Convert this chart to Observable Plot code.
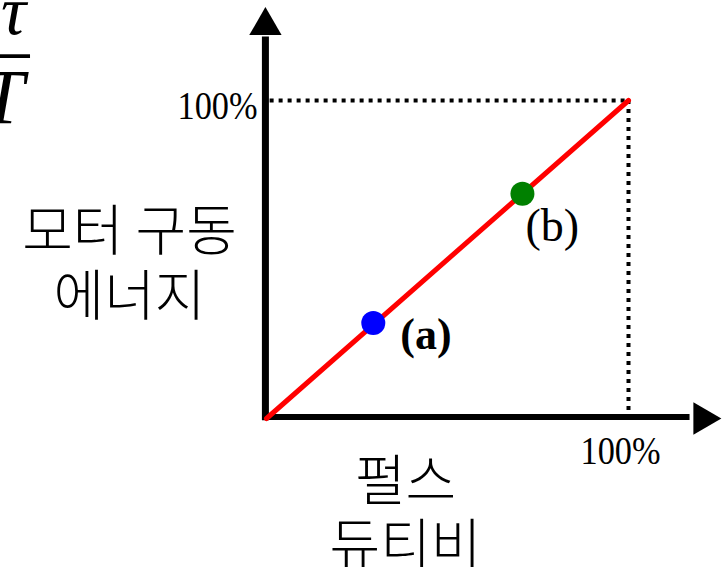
<!DOCTYPE html>
<html>
<head>
<meta charset="utf-8">
<script src="https://cdn.jsdelivr.net/npm/d3@7"></script>
<script src="https://cdn.jsdelivr.net/npm/@observablehq/plot@0.6"></script>
<style>
  html, body { margin: 0; padding: 0; background: #fff; overflow: hidden; }
</style>
</head>
<body>
<div id="chart"></div>
<script>
// ---- data ----
const lineX = [0, 100];
const lineY = [0, 100];
const pointX = [29.5, 70.7];
const pointY = [30, 70.7];
const pointColors = ["#0000ff", "#008000"];
const pointLabels = ["(a)", "(b)"];
const maxTick = [100];
const tickLabel = d => d + "%";
const yTitle = "모터 구동\n에너지";
const xTitle = "펄스\n듀티비";
const axisExtentY = [-0.7, 120];   // y-axis shaft extent (data units)
const axisExtentX = [-1, 117];     // x-axis shaft extent (data units)
const arrowY = {x: -0.3, y: 123.5};
const arrowX = {x: 120.5, y: 0};

const points = pointX.map((x, i) => ({x, y: pointY[i], c: pointColors[i], label: pointLabels[i]}));
const line = lineX.map((x, i) => ({x, y: lineY[i]}));

const serif = "'Liberation Serif', 'Times New Roman', serif";
const kr = "'Noto Sans CJK KR', 'Noto Sans', sans-serif";

const chart = Plot.plot({
  width: 726,
  height: 567,
  marginLeft: 266,
  marginRight: 98,
  marginTop: 100,
  marginBottom: 149,
  x: {domain: [0, 100]},
  y: {domain: [0, 100]},
  style: {background: "#fff", overflow: "visible"},
  marks: [
    // dotted guide lines
    Plot.ruleY(maxTick, {x1: 1, x2: 100, stroke: "#000", strokeWidth: 4, strokeDasharray: "4,5"}),
    Plot.ruleX(maxTick, {y1: 2.5, y2: 100, stroke: "#000", strokeWidth: 4, strokeDasharray: "4,5"}),
    // axes shafts
    Plot.ruleX([arrowY.x], {y1: axisExtentY[0], y2: axisExtentY[1], stroke: "#000", strokeWidth: 7}),
    Plot.ruleY([0.5], {x1: axisExtentX[0], x2: axisExtentX[1], stroke: "#000", strokeWidth: 6}),
    // arrow heads
    Plot.dot([arrowY], {x: "x", y: "y", symbol: "triangle", r: 12, fill: "#000", stroke: null}),
    Plot.dot([arrowX], {x: "x", y: "y", symbol: "triangle", r: 12, fill: "#000", stroke: null, rotate: 90}),
    // red line
    Plot.line(line, {x: "x", y: "y", stroke: "#ff0000", strokeWidth: 5}),
    // points
    Plot.dot(points, {x: "x", y: "y", r: 12, fill: "c", stroke: null}),
    // point labels
    Plot.text([points[0]], {x: "x", y: "y", text: "label", textAnchor: "start", lineAnchor: "bottom",
      dx: 27, dy: 26, fontSize: 44, fontWeight: "bold", fontFamily: serif, fill: "#000"}),
    Plot.text([points[1]], {x: "x", y: "y", text: "label", textAnchor: "start", lineAnchor: "bottom",
      dx: 3, dy: 47, fontSize: 46, fontFamily: serif, fill: "#000"}),
    // tick labels
    Plot.axisY({ticks: maxTick, tickFormat: tickLabel, tickSize: 0, tickPadding: 9, dy: 6,
      fontSize: 40, fontFamily: serif, label: null}),
    Plot.axisX({ticks: maxTick, tickFormat: tickLabel, tickSize: 0, tickPadding: 17, dx: -8,
      fontSize: 40, fontFamily: serif, label: null}),
    // axis titles
    Plot.text([yTitle], {frameAnchor: "top-left", dx: -137, dy: 214, lineAnchor: "bottom", textAnchor: "middle",
      lineHeight: 1.18, fontSize: 55, fontWeight: 300, fontFamily: kr, fill: "#000"}),
    Plot.text([xTitle], {frameAnchor: "bottom-left", dx: 139, dy: 145, lineAnchor: "bottom", textAnchor: "middle",
      lineHeight: 1.15, fontSize: 55, fontWeight: 300, fontFamily: kr, fill: "#000"}),
    // tau / T
    Plot.text(["τ"], {frameAnchor: "top-left", dx: -253, dy: -67, lineAnchor: "bottom", textAnchor: "middle",
      fontSize: 70, fontStyle: "italic", fontFamily: serif, fill: "#000"}),
    Plot.text(["–"], {frameAnchor: "top-left", dx: -256, dy: -27, lineAnchor: "bottom", textAnchor: "middle",
      fontSize: 76, fontFamily: serif, fill: "#000"}),
    Plot.text(["T"], {frameAnchor: "top-left", dx: -264, dy: 22, lineAnchor: "bottom", textAnchor: "middle",
      fontSize: 78, fontStyle: "italic", fontFamily: serif, fill: "#000"})
  ]
});

d3.select(chart).selectAll("text").filter(function() { return this.textContent === "100%"; })
  .attr("textLength", 80).attr("lengthAdjust", "spacingAndGlyphs");

document.getElementById("chart").appendChild(chart);
</script>
</body>
</html>
